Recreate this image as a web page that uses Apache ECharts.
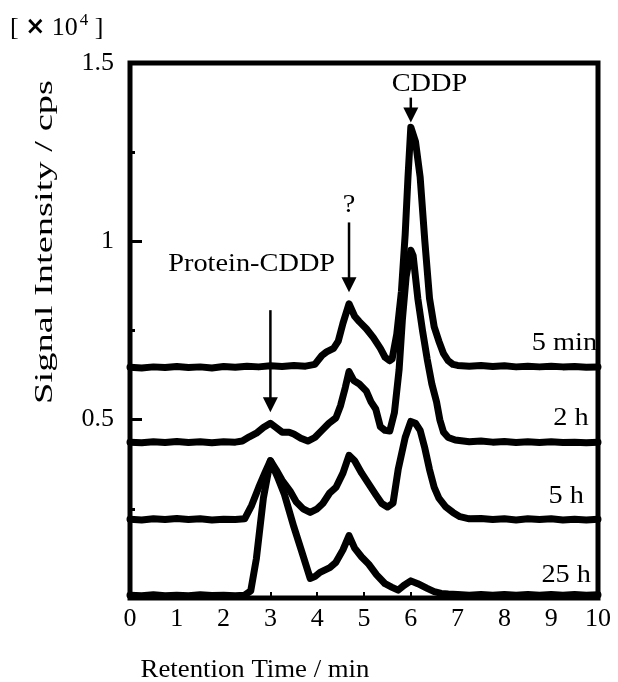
<!DOCTYPE html>
<html>
<head>
<meta charset="utf-8">
<script src="https://cdn.jsdelivr.net/npm/echarts@6/dist/echarts.min.js"></script>
<style>
html,body{margin:0;padding:0;background:#fff;}
#chart{width:618px;height:682px;}
</style>
</head>
<body>
<div id="chart"></div>
<script>
// Retention time (min) and signal (x10^4 cps) for each trace
const t5min = [0,0.25,0.5,0.75,1.0,1.25,1.5,1.75,2.0,2.25,2.5,2.75,3.0,3.25,3.5,3.75,3.95,4.1,4.2,4.35,4.45,4.55,4.68,4.8,4.9,5.05,5.2,5.35,5.45,5.55,5.6,5.7,5.8,5.88,5.94,6.0,6.1,6.2,6.3,6.4,6.5,6.6,6.7,6.8,6.9,7.0,7.25,7.5,7.75,8.0,8.25,8.5,8.75,9.0,9.25,9.5,9.75,10];
const v5min = [0.647,0.645,0.648,0.646,0.649,0.646,0.648,0.645,0.649,0.647,0.650,0.648,0.651,0.649,0.652,0.650,0.655,0.680,0.690,0.700,0.720,0.770,0.825,0.790,0.775,0.755,0.730,0.700,0.675,0.665,0.670,0.740,0.860,1.020,1.180,1.320,1.280,1.180,1.000,0.840,0.760,0.720,0.685,0.665,0.655,0.652,0.650,0.652,0.649,0.651,0.648,0.650,0.648,0.650,0.648,0.649,0.647,0.648];

const t2h = [0,0.25,0.5,0.75,1.0,1.25,1.5,1.75,2.0,2.25,2.4,2.55,2.7,2.85,3.0,3.12,3.25,3.4,3.5,3.65,3.8,3.95,4.1,4.25,4.4,4.5,4.6,4.68,4.78,4.9,5.05,5.15,5.25,5.35,5.45,5.55,5.65,5.75,5.82,5.9,6.0,6.05,6.15,6.25,6.35,6.45,6.55,6.62,6.7,6.8,6.95,7.25,7.5,7.75,8.0,8.25,8.5,8.75,9.0,9.25,9.5,9.75,10];
const v2h = [0.437,0.435,0.438,0.436,0.439,0.436,0.438,0.435,0.438,0.437,0.440,0.452,0.462,0.478,0.490,0.478,0.465,0.465,0.460,0.448,0.440,0.450,0.470,0.490,0.505,0.540,0.590,0.635,0.610,0.600,0.580,0.550,0.530,0.480,0.470,0.468,0.520,0.640,0.780,0.900,0.975,0.960,0.840,0.750,0.670,0.600,0.550,0.500,0.465,0.450,0.443,0.438,0.440,0.437,0.439,0.436,0.438,0.436,0.438,0.436,0.437,0.435,0.437];

const t5h = [0,0.25,0.5,0.75,1.0,1.25,1.5,1.75,2.0,2.25,2.45,2.6,2.75,2.88,3.0,3.12,3.25,3.42,3.55,3.7,3.85,4.0,4.12,4.27,4.4,4.55,4.68,4.8,4.95,5.1,5.25,5.38,5.5,5.62,5.73,5.88,6.0,6.1,6.2,6.3,6.4,6.5,6.6,6.75,6.9,7.05,7.25,7.5,7.75,8.0,8.25,8.5,8.75,9.0,9.25,9.5,9.75,10];
const v5h = [0.221,0.219,0.222,0.220,0.223,0.220,0.222,0.219,0.221,0.220,0.222,0.260,0.310,0.350,0.385,0.360,0.330,0.300,0.270,0.250,0.240,0.250,0.265,0.295,0.310,0.350,0.400,0.385,0.350,0.320,0.290,0.265,0.255,0.266,0.360,0.450,0.495,0.490,0.470,0.420,0.360,0.310,0.280,0.255,0.240,0.228,0.222,0.223,0.220,0.222,0.219,0.222,0.220,0.222,0.219,0.221,0.219,0.221];

const t25h = [0,0.25,0.5,0.75,1.0,1.25,1.5,1.75,2.0,2.25,2.45,2.58,2.7,2.85,3.0,3.15,3.3,3.5,3.67,3.85,3.95,4.06,4.27,4.4,4.55,4.68,4.8,4.95,5.1,5.27,5.45,5.6,5.73,5.85,6.0,6.15,6.35,6.5,6.65,6.8,7.0,7.25,7.5,7.75,8.0,8.25,8.5,8.75,9.0,9.25,9.5,9.75,10];
const v25h = [0.008,0.006,0.009,0.006,0.008,0.006,0.009,0.007,0.008,0.006,0.008,0.020,0.110,0.280,0.385,0.340,0.290,0.200,0.130,0.055,0.060,0.072,0.085,0.100,0.135,0.175,0.140,0.115,0.095,0.065,0.040,0.030,0.022,0.035,0.048,0.040,0.027,0.018,0.013,0.011,0.010,0.008,0.010,0.008,0.010,0.008,0.010,0.008,0.010,0.008,0.010,0.008,0.009];

const xTicks = [0,1,2,3,4,5,6,7,8,9,10];
const yTickLabels = ['0.5','1','1.5'];
const traceNames = ['5 min','2 h','5 h','25 h'];
const peakNames = ['Protein-CDDP','?','CDDP'];

const FONT = "'Liberation Serif','Times New Roman',serif";
const chart = echarts.init(document.getElementById('chart'), null, {renderer:'canvas'});

function pairs(t, v){ return t.map((x,i)=>[x, v[i]]); }
const traces = [[t5min,v5min],[t2h,v2h],[t5h,v5h],[t25h,v25h]];

chart.setOption({
  animation:false,
  backgroundColor:'#fff',
  grid:{left:130,right:20,top:63,bottom:84,containLabel:false,show:true,borderColor:'#000',borderWidth:5,backgroundColor:'transparent'},
  xAxis:{type:'value',min:0,max:10,interval:1,
    axisLine:{show:false},
    axisTick:{show:true,inside:true,length:6,lineStyle:{color:'#000',width:2}},
    axisLabel:{color:'#000',fontFamily:FONT,fontSize:26,margin:8,
      formatter:(v)=> xTicks.indexOf(v)>=0 ? String(v) : ''},
    splitLine:{show:false}},
  yAxis:{type:'value',min:0,max:1.5,interval:0.5,
    axisLine:{show:false},
    axisTick:{show:true,inside:true,length:12,lineStyle:{color:'#000',width:3}},
    minorTick:{show:true,splitNumber:2,length:5,lineStyle:{color:'#000',width:3}},
    axisLabel:{color:'#000',fontFamily:FONT,fontSize:26,margin:16,
      formatter:(v)=>{const s=String(v);return yTickLabels.indexOf(s)>=0?s:'';}},
    splitLine:{show:false}},
  series: traces.map((tr,i)=>({
    type:'line',name:traceNames[i],data:pairs(tr[0],tr[1]),
    showSymbol:false,symbol:'none',
    lineStyle:{color:'#000',width:7,join:'round',cap:'round'},
    z:3
  }))
});

// annotation layout (data coordinates for anchors)
const arrows = [
  {x:3.0, y0:0.807, y1:0.521},
  {x:4.68, y0:1.053, y1:0.857},
  {x:6.0, y0:1.403, y1:1.333}
];
const peakLabelPos = [[2.6,0.935],[4.68,1.10],[6.4,1.44]];
const traceLabelPos = [[9.98,0.715],[9.8,0.505],[9.7,0.285],[9.85,0.065]];

const P = (x,y)=>chart.convertToPixel({gridIndex:0},[x,y]);
const g = [];
const SX = 1.09;
arrows.forEach(a=>{
  const p0=P(a.x,a.y0), p1=P(a.x,a.y1);
  g.push({type:'line',shape:{x1:p0[0],y1:p0[1],x2:p1[0],y2:p1[1]-12},style:{stroke:'#000',lineWidth:2.5},z:10});
  g.push({type:'polygon',shape:{points:[[p1[0]-7.5,p1[1]-15],[p1[0]+7.5,p1[1]-15],[p1[0],p1[1]]]},style:{fill:'#000'},z:10});
});
peakNames.forEach((n,i)=>{
  const p=P(peakLabelPos[i][0],peakLabelPos[i][1]);
  g.push({type:'text',x:p[0],y:p[1],scaleX:SX,style:{text:n,font:'26px '+FONT,fill:'#000',align:'center',verticalAlign:'middle'},z:10});
});
traceNames.forEach((n,i)=>{
  const p=P(traceLabelPos[i][0],traceLabelPos[i][1]);
  g.push({type:'text',x:p[0],y:p[1],scaleX:SX,style:{text:n,font:'26px '+FONT,fill:'#000',align:'right',verticalAlign:'middle'},z:10});
});
// axis names
g.push({type:'text',x:255,y:670,scaleX:1.03,style:{text:'Retention Time / min',font:'26px '+FONT,fill:'#000',align:'center',verticalAlign:'middle'}});
g.push({type:'text',x:45,y:242,rotation:Math.PI/2,scaleX:1.48,style:{text:'Signal Intensity / cps',font:'26px '+FONT,fill:'#000',align:'center',verticalAlign:'middle'}});
g.push({type:'text',x:10,y:28,style:{
  text:'{b|[ }{x|\u00d7}{b| 10}{s|4}{b| ]}',
  verticalAlign:'middle',
  rich:{
    b:{font:'26px '+FONT,fill:'#000'},
    x:{font:'bold 24px "DejaVu Sans",sans-serif',fill:'#000'},
    s:{font:'17px '+FONT,fill:'#000',verticalAlign:'top',padding:[0,0,14,2]}
  }}});
chart.setOption({graphic:g});
</script>
</body>
</html>
